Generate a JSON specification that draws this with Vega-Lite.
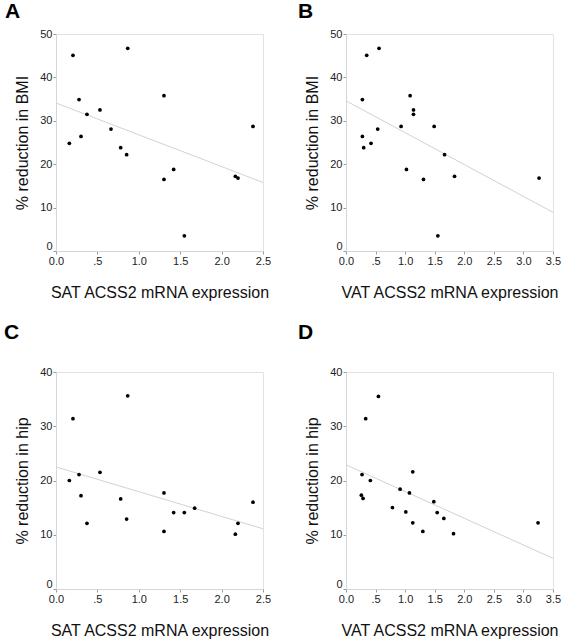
{
  "$schema": "https://vega.github.io/schema/vega-lite/v6.json",
  "padding": {"left": 3, "top": 0, "right": 0, "bottom": 0},
  "background": "white",
  "datasets": {
    "pts": [
      {"panel": "A", "x": 0.161, "y": 24.8},
      {"panel": "A", "x": 0.205, "y": 45.1},
      {"panel": "A", "x": 0.278, "y": 34.9},
      {"panel": "A", "x": 0.302, "y": 26.4},
      {"panel": "A", "x": 0.374, "y": 31.5},
      {"panel": "A", "x": 0.531, "y": 32.5},
      {"panel": "A", "x": 0.664, "y": 28.1},
      {"panel": "A", "x": 0.781, "y": 23.8},
      {"panel": "A", "x": 0.853, "y": 22.2},
      {"panel": "A", "x": 0.866, "y": 46.7},
      {"panel": "A", "x": 1.304, "y": 35.8},
      {"panel": "A", "x": 1.304, "y": 16.5},
      {"panel": "A", "x": 1.421, "y": 18.8},
      {"panel": "A", "x": 1.55, "y": 3.5},
      {"panel": "A", "x": 2.166, "y": 17.2},
      {"panel": "A", "x": 2.198, "y": 16.8},
      {"panel": "A", "x": 2.379, "y": 28.7},
      {"panel": "B", "x": 0.559, "y": 46.7},
      {"panel": "B", "x": 0.35, "y": 45.1},
      {"panel": "B", "x": 0.277, "y": 34.9},
      {"panel": "B", "x": 0.277, "y": 26.4},
      {"panel": "B", "x": 0.299, "y": 23.8},
      {"panel": "B", "x": 0.423, "y": 24.8},
      {"panel": "B", "x": 0.536, "y": 28.1},
      {"panel": "B", "x": 0.932, "y": 28.7},
      {"panel": "B", "x": 1.084, "y": 35.8},
      {"panel": "B", "x": 1.141, "y": 32.5},
      {"panel": "B", "x": 1.141, "y": 31.5},
      {"panel": "B", "x": 1.022, "y": 18.8},
      {"panel": "B", "x": 1.31, "y": 16.5},
      {"panel": "B", "x": 1.491, "y": 28.7},
      {"panel": "B", "x": 1.666, "y": 22.2},
      {"panel": "B", "x": 1.835, "y": 17.2},
      {"panel": "B", "x": 1.553, "y": 3.5},
      {"panel": "B", "x": 3.264, "y": 16.8},
      {"panel": "C", "x": 0.161, "y": 20.0},
      {"panel": "C", "x": 0.205, "y": 31.4},
      {"panel": "C", "x": 0.278, "y": 21.1},
      {"panel": "C", "x": 0.302, "y": 17.2},
      {"panel": "C", "x": 0.374, "y": 12.1},
      {"panel": "C", "x": 0.531, "y": 21.5},
      {"panel": "C", "x": 0.781, "y": 16.6},
      {"panel": "C", "x": 0.853, "y": 12.9},
      {"panel": "C", "x": 0.866, "y": 35.6},
      {"panel": "C", "x": 1.304, "y": 17.7},
      {"panel": "C", "x": 1.304, "y": 10.6},
      {"panel": "C", "x": 1.421, "y": 14.1},
      {"panel": "C", "x": 1.55, "y": 14.1},
      {"panel": "C", "x": 1.675, "y": 14.9},
      {"panel": "C", "x": 2.166, "y": 10.1},
      {"panel": "C", "x": 2.198, "y": 12.1},
      {"panel": "C", "x": 2.379, "y": 16.0},
      {"panel": "D", "x": 0.548, "y": 35.5},
      {"panel": "D", "x": 0.333, "y": 31.4},
      {"panel": "D", "x": 0.271, "y": 21.1},
      {"panel": "D", "x": 0.412, "y": 20.0},
      {"panel": "D", "x": 0.26, "y": 17.3},
      {"panel": "D", "x": 0.288, "y": 16.7},
      {"panel": "D", "x": 0.915, "y": 18.4},
      {"panel": "D", "x": 1.073, "y": 17.7},
      {"panel": "D", "x": 1.129, "y": 21.6},
      {"panel": "D", "x": 0.785, "y": 15.0},
      {"panel": "D", "x": 1.011, "y": 14.2},
      {"panel": "D", "x": 1.129, "y": 12.2},
      {"panel": "D", "x": 1.299, "y": 10.6},
      {"panel": "D", "x": 1.485, "y": 16.1},
      {"panel": "D", "x": 1.542, "y": 14.1},
      {"panel": "D", "x": 1.654, "y": 13.0},
      {"panel": "D", "x": 1.818, "y": 10.2},
      {"panel": "D", "x": 3.247, "y": 12.2}
    ],
    "fit": [
      {"panel": "A", "x": 0, "y": 34.1},
      {"panel": "A", "x": 2.5, "y": 15.8},
      {"panel": "B", "x": 0, "y": 34.6},
      {"panel": "B", "x": 3.5, "y": 8.9},
      {"panel": "C", "x": 0, "y": 22.5},
      {"panel": "C", "x": 2.5, "y": 11.1},
      {"panel": "D", "x": 0, "y": 22.9},
      {"panel": "D", "x": 3.5, "y": 5.65}
    ]
  },
  "columns": 2,
  "spacing": {"column": 25, "row": 20},
  "concat": [
    {
      "width": 207, "height": 217,
      "title": {"text": "A", "dx": -51, "offset": 6},
      "encoding": {
        "x": {"field": "x", "type": "quantitative", "scale": {"domain": [0, 2.5], "nice": false}, "axis": {"values": [0, 0.5, 1, 1.5, 2, 2.5], "title": "SAT ACSS2 mRNA expression"}},
        "y": {"field": "y", "type": "quantitative", "scale": {"domain": [0, 50], "nice": false}, "axis": {"values": [0, 10, 20, 30, 40, 50], "title": "% reduction in BMI"}}
      },
      "layer": [
        {
          "data": {"name": "fit"},
          "transform": [{"filter": "datum.panel === 'A'"}],
          "mark": {"type": "line", "color": "#d2d2d2", "strokeWidth": 1}
        },
        {
          "data": {"name": "pts"},
          "transform": [{"filter": "datum.panel === 'A'"}],
          "mark": {"type": "circle", "color": "black", "size": 14, "opacity": 1}
        }
      ]
    },
    {
      "width": 207, "height": 217,
      "title": {"text": "B", "dx": -48, "offset": 6},
      "encoding": {
        "x": {"field": "x", "type": "quantitative", "scale": {"domain": [0, 3.5], "nice": false}, "axis": {"values": [0, 0.5, 1, 1.5, 2, 2.5, 3, 3.5], "title": "VAT ACSS2 mRNA expression"}},
        "y": {"field": "y", "type": "quantitative", "scale": {"domain": [0, 50], "nice": false}, "axis": {"values": [0, 10, 20, 30, 40, 50], "title": "% reduction in BMI"}}
      },
      "layer": [
        {
          "data": {"name": "fit"},
          "transform": [{"filter": "datum.panel === 'B'"}],
          "mark": {"type": "line", "color": "#d2d2d2", "strokeWidth": 1}
        },
        {
          "data": {"name": "pts"},
          "transform": [{"filter": "datum.panel === 'B'"}],
          "mark": {"type": "circle", "color": "black", "size": 14, "opacity": 1}
        }
      ]
    },
    {
      "width": 207, "height": 217,
      "title": {"text": "C", "dx": -52, "offset": 23},
      "encoding": {
        "x": {"field": "x", "type": "quantitative", "scale": {"domain": [0, 2.5], "nice": false}, "axis": {"values": [0, 0.5, 1, 1.5, 2, 2.5], "title": "SAT ACSS2 mRNA expression"}},
        "y": {"field": "y", "type": "quantitative", "scale": {"domain": [0, 40], "nice": false}, "axis": {"values": [0, 10, 20, 30, 40], "title": "% reduction in hip"}}
      },
      "layer": [
        {
          "data": {"name": "fit"},
          "transform": [{"filter": "datum.panel === 'C'"}],
          "mark": {"type": "line", "color": "#d2d2d2", "strokeWidth": 1}
        },
        {
          "data": {"name": "pts"},
          "transform": [{"filter": "datum.panel === 'C'"}],
          "mark": {"type": "circle", "color": "black", "size": 14, "opacity": 1}
        }
      ]
    },
    {
      "width": 207, "height": 217,
      "title": {"text": "D", "dx": -48, "offset": 23},
      "encoding": {
        "x": {"field": "x", "type": "quantitative", "scale": {"domain": [0, 3.5], "nice": false}, "axis": {"values": [0, 0.5, 1, 1.5, 2, 2.5, 3, 3.5], "title": "VAT ACSS2 mRNA expression"}},
        "y": {"field": "y", "type": "quantitative", "scale": {"domain": [0, 40], "nice": false}, "axis": {"values": [0, 10, 20, 30, 40], "title": "% reduction in hip"}}
      },
      "layer": [
        {
          "data": {"name": "fit"},
          "transform": [{"filter": "datum.panel === 'D'"}],
          "mark": {"type": "line", "color": "#d2d2d2", "strokeWidth": 1}
        },
        {
          "data": {"name": "pts"},
          "transform": [{"filter": "datum.panel === 'D'"}],
          "mark": {"type": "circle", "color": "black", "size": 14, "opacity": 1}
        }
      ]
    }
  ],
  "resolve": {"scale": {"x": "independent", "y": "independent"}},
  "config": {
    "font": "Liberation Sans",
    "view": {"stroke": "#e2e2e2", "strokeWidth": 1},
    "title": {"anchor": "start", "frame": "group", "fontSize": 21, "fontWeight": "bold", "font": "Liberation Sans", "color": "#000000", "baseline": "alphabetic"},
    "axis": {
      "grid": false,
      "domainColor": "#d6d6d6",
      "tickColor": "#9a9a9a",
      "tickSize": 3,
      "labelFont": "Liberation Sans",
      "labelFontSize": 11,
      "labelColor": "#222222",
      "labelPadding": 1,
      "labelOverlap": false,
      "titleFont": "Liberation Sans",
      "titleFontSize": 16,
      "titleFontWeight": "normal",
      "titleColor": "#111111"
    },
    "axisX": {
      "labelFlush": false,
      "labelExpr": "datum.value === 0.5 ? '.5' : format(datum.value, '.1f')",
      "titlePadding": 18
    },
    "axisY": {
      "labelBaseline": {"condition": {"test": "datum.value === 0", "value": "bottom"}, "value": "middle"},
      "titlePadding": 9
    }
  }
}
